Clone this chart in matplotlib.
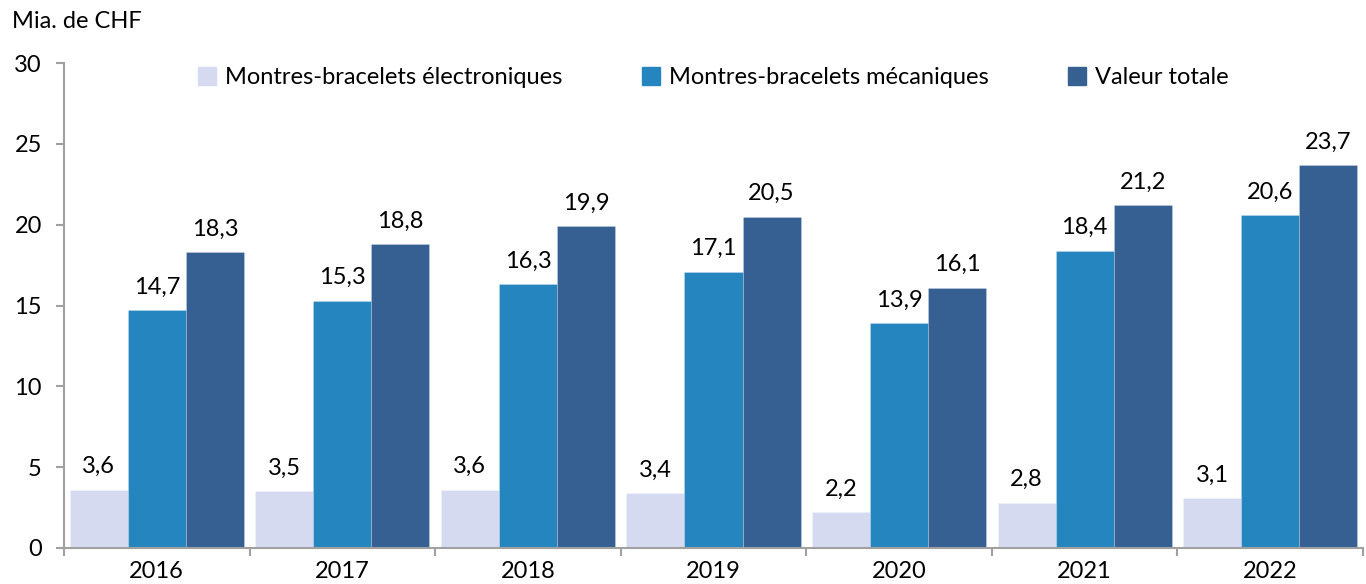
import numpy as np
import matplotlib.pyplot as plt
from matplotlib.patches import Patch

plt.rcParams['font.family'] = ['Lato', 'DejaVu Sans']
FS = 17

years = ['2016', '2017', '2018', '2019', '2020', '2021', '2022']
electroniques = [3.6, 3.5, 3.6, 3.4, 2.2, 2.8, 3.1]
mecaniques = [14.7, 15.3, 16.3, 17.1, 13.9, 18.4, 20.6]
totale = [18.3, 18.8, 19.9, 20.5, 16.1, 21.2, 23.7]

series = [
    ('Montres-bracelets électroniques', electroniques, '#d5daf0'),
    ('Montres-bracelets mécaniques', mecaniques, '#2585be'),
    ('Valeur totale', totale, '#366092'),
]

fig = plt.figure(figsize=(13.66, 5.84), dpi=100)
ax = fig.add_axes([64 / 1366, 36 / 584, (1363 - 64) / 1366, (548 - 63) / 584])

x = np.arange(len(years))
w = 0.313
for i, (name, vals, col) in enumerate(series):
    pos = x + (i - 1) * w
    ax.bar(pos, vals, width=w, color=col, label=name,
           edgecolor='#ffffff40', linewidth=0.6)
    for p, v in zip(pos, vals):
        ax.annotate(f'{v:.1f}'.replace('.', ','), (p, v), xytext=(0, 9),
                    textcoords='offset points', ha='center', va='bottom',
                    fontsize=FS)

ax.set_xlim(-0.5, len(years) - 0.5)
ax.set_ylim(0, 30)
ax.set_yticks(range(0, 31, 5))
ax.set_xticks(np.arange(-0.5, len(years), 1))
ax.set_xticklabels([])
ax.set_xticks(x, minor=True)
ax.set_xticklabels(years, minor=True, fontsize=FS)
ax.tick_params(axis='x', which='minor', length=0, pad=9)
ax.tick_params(axis='x', which='major', length=6, color='#a0a0a0', width=1.5)
ax.tick_params(axis='y', length=6, color='#a0a0a0', width=1.5, labelsize=FS, pad=10)

for s in ['top', 'right']:
    ax.spines[s].set_visible(False)
for s in ['left', 'bottom']:
    ax.spines[s].set_color('#a0a0a0')
    ax.spines[s].set_linewidth(1.5)

handles = [Patch(color=c) for _, _, c in series]
ax.legend(handles, [n for n, _, _ in series], loc='upper left',
          bbox_to_anchor=(0.087, 1.035), ncol=3, frameon=False, fontsize=FS,
          handlelength=0.75, handleheight=0.75, handletextpad=0.4,
          columnspacing=3.35)

fig.text(12 / 1366, 1 - 22 / 584, 'Mia. de CHF', fontsize=FS, va='center')

fig.savefig('out.png', dpi=100)
